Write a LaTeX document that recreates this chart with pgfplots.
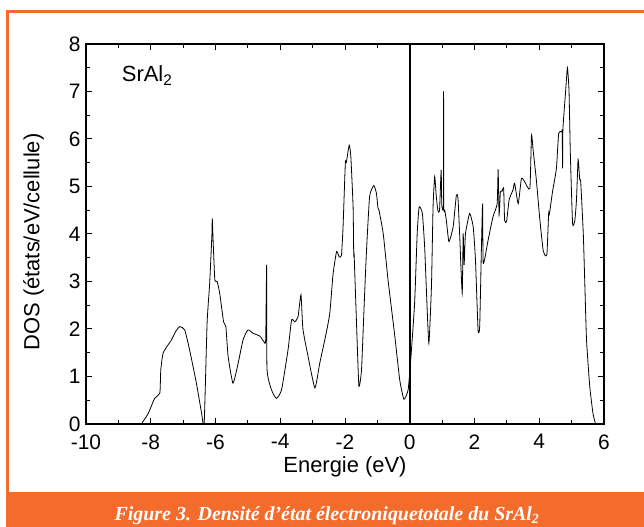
\documentclass[border=0pt]{standalone}
\usepackage{fontspec}
\setmainfont{Liberation Sans}
\newfontfamily\capfont{Liberation Serif}
\usepackage{pgfplots}
\pgfplotsset{compat=1.18}
\definecolor{frameorange}{HTML}{F36C2C}

\begin{document}
\begin{tikzpicture}
% page frame and caption band
\path[use as bounding box] (0bp,0bp) rectangle (644bp,527bp);
\fill[frameorange] (6bp,0bp) rectangle (644bp,35bp);
\fill[frameorange] (6bp,35bp) rectangle (9bp,517bp);
\fill[frameorange] (6bp,514bp) rectangle (644bp,517bp);
\node[anchor=base, text=white, font=\capfont\bfseries\itshape\fontsize{20}{22}\selectfont]
  at (327bp,7bp) {Figure 3. Densité d’état électroniquetotale du SrAl\textsubscript{2}};

\begin{axis}[
    at={(86bp,103bp)}, anchor=south west,
    scale only axis, width=518bp, height=380bp,
    xmin=-10, xmax=6, ymin=0, ymax=8,
    xtick={-10,-8,...,6}, ytick={0,1,...,8},
    minor x tick num=1, minor y tick num=1,
    tick align=inside,
    major tick length=6bp, minor tick length=4bp,
    axis line style={line width=1.2bp},
    every tick/.style={black, line width=1bp},
    /pgf/number format/assume math mode=true,
    ticklabel style={font=\fontsize{21}{21}\selectfont},
    x tick label style={yshift=-7bp},
    y tick label style={xshift=-2bp},
    xlabel={Energie (eV)},
    ylabel={DOS (états/eV/cellule)},
    every axis x label/.style={at={(axis description cs:0.5,-0.113)}, anchor=center,
        font=\fontsize{22}{22}\selectfont},
    every axis y label/.style={at={(axis description cs:-0.1014,0.479)}, anchor=center,
        rotate=90, font=\fontsize{22}{22}\selectfont},
]
\addplot[black, line width=0.8bp, mark=none, smooth, tension=0.3] table {
x y
-8.29 0
-8.08 0.22
-7.88 0.54
-7.72 0.65
-7.69 1.14
-7.62 1.49
-7.47 1.66
-7.36 1.77
-7.22 1.96
-7.10 2.05
-6.95 1.98
-6.80 1.56
-6.59 0.86
-6.43 0.23
-6.35 0
-6.26 2.12
-6.18 2.96
-6.11 4.00
-6.10 4.33
-6.07 3.80
-6.02 3.03
-5.95 3.00
-5.87 2.75
-5.75 2.15
-5.68 2.05
-5.61 1.42
-5.46 0.86
-5.30 1.28
-5.15 1.77
-5.00 1.98
-4.84 1.91
-4.63 1.85
-4.50 1.73
-4.45 1.77
-4.42 3.35
-4.41 1.17
-4.27 0.72
-4.12 0.54
-3.96 0.72
-3.76 1.56
-3.65 2.19
-3.55 2.15
-3.45 2.26
-3.36 2.72
-3.30 2.00
-3.14 1.42
-2.93 0.76
-2.78 1.28
-2.60 1.85
-2.47 2.33
-2.37 3.15
-2.26 3.63
-2.18 3.52
-2.11 3.55
-2.06 4.15
-1.99 5.49
-1.96 5.50
-1.87 5.87
-1.82 5.63
-1.75 4.57
-1.73 3.52
-1.72 3.60
-1.63 1.84
-1.57 0.79
-1.49 1.14
-1.41 2.47
-1.34 3.59
-1.24 4.79
-1.11 5.02
-1.03 4.86
-0.98 4.54
-0.95 4.50
-0.82 4.01
-0.67 3.03
-0.46 1.84
-0.31 0.93
-0.18 0.52
-0.05 0.72
0.03 1.35
0.15 2.54
0.23 4.01
0.29 4.57
0.39 4.43
0.46 3.73
0.51 2.89
0.59 1.70
0.67 2.89
0.72 4.57
0.77 5.21
0.82 4.79
0.87 4.49
0.92 4.50
0.97 5.35
0.99 4.61
1.04 4.60
1.045 7.00
1.05 4.60
1.08 4.50
1.13 4.29
1.21 3.84
1.34 4.15
1.44 4.82
1.49 4.75
1.54 4.01
1.62 2.75
1.65 4.01
1.68 3.35
1.72 4.00
1.85 4.43
1.96 4.15
2.03 3.45
2.11 1.98
2.16 2.05
2.21 3.59
2.25 4.64
2.27 3.38
2.42 3.87
2.57 4.36
2.70 4.64
2.73 5.36
2.76 4.40
2.80 4.89
2.85 4.90
2.90 4.96
2.93 4.29
2.99 4.26
3.07 4.72
3.19 4.93
3.24 5.07
3.35 4.64
3.45 5.17
3.55 5.10
3.71 4.96
3.76 6.08
3.81 5.77
3.91 5.14
4.02 4.29
4.12 3.66
4.19 3.54
4.24 3.60
4.29 4.43
4.31 4.40
4.41 4.89
4.53 5.38
4.60 6.12
4.69 6.15
4.71 6.15
4.72 5.38
4.73 6.20
4.81 6.96
4.87 7.50
4.92 7.00
4.96 5.70
5.03 4.22
5.10 4.29
5.15 4.72
5.20 5.57
5.25 5.14
5.28 5.10
5.36 4.01
5.41 2.89
5.46 1.77
5.56 0.79
5.66 0.22
5.74 0
};
% Fermi level
\addplot[black, line width=1.5bp, mark=none] coordinates {(0,0) (0,8)};
\node[anchor=base west, font=\fontsize{22}{22}\selectfont] at (axis cs:-9,7.2) {SrAl\textsubscript{2}};
\end{axis}
\end{tikzpicture}
\end{document}
